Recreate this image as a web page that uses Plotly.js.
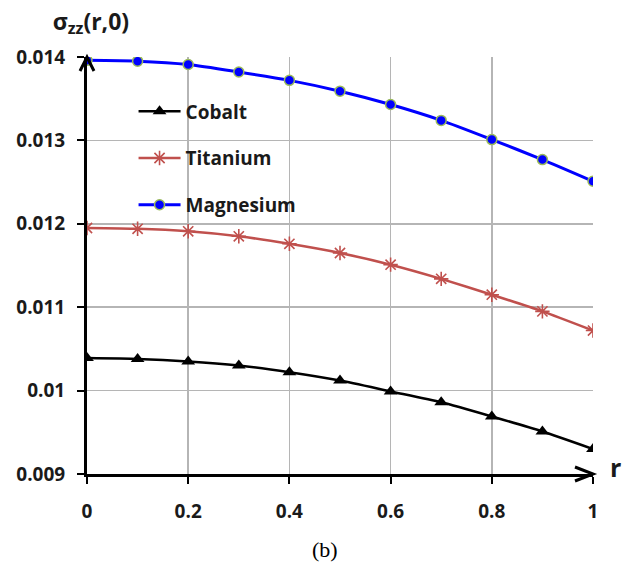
<!DOCTYPE html>
<html>
<head>
<meta charset="utf-8">
<script src="https://cdn.plot.ly/plotly-3.0.1.min.js"></script>
<style>
  html, body { margin: 0; padding: 0; background: #ffffff; }
  #wrap { position: relative; width: 627px; height: 566px; }
  #chart { width: 627px; height: 566px; }
  #axis-r {
    position: absolute; left: 610px; top: 455px;
    font-family: 'Open Sans', sans-serif; font-weight: bold;
    font-size: 25px; line-height: 25px; color: #1a1a1a;
  }
</style>
</head>
<body>
<div id="wrap">
  <div id="chart"></div>
  <div id="axis-r">r</div>
</div>
<script>
// Radial coordinate r and the axial stress sigma_zz(r, 0) for three materials
const r = [0, 0.1, 0.2, 0.3, 0.4, 0.5, 0.6, 0.7, 0.8, 0.9, 1.0];

const cobalt    = [0.01039, 0.01038, 0.01035, 0.01030, 0.01022, 0.01012, 0.00999, 0.00986, 0.00969, 0.00951, 0.00930];
const titanium  = [0.01195, 0.01194, 0.01191, 0.01185, 0.01176, 0.01165, 0.01151, 0.01134, 0.01115, 0.01095, 0.01072];
const magnesium = [0.01396, 0.01395, 0.01391, 0.01382, 0.01372, 0.01359, 0.01343, 0.01324, 0.01301, 0.01277, 0.01251];

const seriesNames = ['Cobalt', 'Titanium', 'Magnesium'];

const xTickVals = [0, 0.2, 0.4, 0.6, 0.8, 1];
const xTickText = ['0', '0.2', '0.4', '0.6', '0.8', '1'];
const yTickVals = [0.009, 0.010, 0.011, 0.012, 0.013, 0.014];
const yTickText = ['0.009', '0.01', '0.011', '0.012', '0.013', '0.014'];

const tickFont = { family: 'Open Sans, sans-serif', size: 19, color: '#1a1a1a', weight: 'bold' };

const traces = [
  {
    x: r, y: cobalt, name: seriesNames[0], legendgroup: 'g1',
    mode: 'lines+markers', type: 'scatter',
    line: { color: '#000000', width: 2.5, shape: 'spline', smoothing: 0.6 },
    marker: { symbol: 'triangle-up', size: 12, color: '#000000' }
  },
  {
    x: r, y: titanium, name: seriesNames[1], legendgroup: 'g2',
    mode: 'lines+markers', type: 'scatter',
    line: { color: '#c0504d', width: 2.5, shape: 'spline', smoothing: 0.6 },
    marker: { symbol: 'asterisk-open', size: 12, color: '#c0504d', line: { color: '#c0504d', width: 1.6 } }
  },
  {
    x: r, y: magnesium, name: seriesNames[2], legendgroup: 'g3',
    mode: 'lines+markers', type: 'scatter',
    line: { color: '#0000ff', width: 3, shape: 'spline', smoothing: 0.6 },
    marker: { symbol: 'circle', size: 10, color: '#0000ff', line: { color: '#9bbb59', width: 1.5 } }
  }
];

const layout = {
  width: 627,
  height: 566,
  margin: { l: 87, r: 34, t: 57, b: 92 },
  paper_bgcolor: '#ffffff',
  plot_bgcolor: '#ffffff',
  showlegend: true,
  legend: {
    x: 0.092, xanchor: 'left',
    y: 0.915, yanchor: 'top',
    bgcolor: 'rgba(0,0,0,0)',
    traceorder: 'grouped',
    tracegroupgap: 19,
    itemwidth: 42,
    font: { family: 'Open Sans, sans-serif', size: 19, color: '#1a1a1a', weight: 'bold' }
  },
  title: {
    text: 'σ<sub>zz</sub>(r,0)',
    xref: 'container', x: 0.084, xanchor: 'left',
    yref: 'container', y: 0.962, yanchor: 'middle',
    font: { family: 'Open Sans, sans-serif', size: 23, color: '#1a1a1a', weight: 'bold' }
  },
  xaxis: {
    range: [0, 1],
    tickmode: 'array', tickvals: xTickVals, ticktext: xTickText,
    showgrid: true, gridcolor: '#b5b5b5', gridwidth: 1.5,
    zeroline: false,
    showline: true, linecolor: '#000000', linewidth: 3,
    ticks: 'outside', ticklen: 7, tickwidth: 2, tickcolor: '#000000',
    ticklabelstandoff: 11,
    tickfont: tickFont,
    fixedrange: true
  },
  yaxis: {
    range: [0.009, 0.014],
    tickmode: 'array', tickvals: yTickVals, ticktext: yTickText,
    showgrid: true, gridcolor: '#b5b5b5', gridwidth: 1.5,
    zeroline: false,
    showline: true, linecolor: '#000000', linewidth: 3,
    ticks: 'outside', ticklen: 7, tickwidth: 2, tickcolor: '#000000',
    ticklabelstandoff: 8,
    tickfont: tickFont,
    fixedrange: true
  },
  shapes: [
    // arrow head at the right end of the r axis
    {
      type: 'path', xref: 'paper', yref: 'paper',
      xsizemode: 'pixel', ysizemode: 'pixel', xanchor: 1, yanchor: 0,
      path: 'M -18 7 L 0 0 L -18 -7',
      line: { color: '#000000', width: 3 }
    },
    // arrow head at the top of the stress axis
    {
      type: 'path', xref: 'paper', yref: 'paper',
      xsizemode: 'pixel', ysizemode: 'pixel', xanchor: 0, yanchor: 1,
      path: 'M -7 -14 L 0 0 L 7 -14',
      line: { color: '#000000', width: 3 }
    }
  ],
  annotations: [
    {
      text: '(b)', xref: 'paper', yref: 'paper',
      x: 0.47, y: -0.182, xanchor: 'center', yanchor: 'middle',
      showarrow: false,
      font: { family: 'Liberation Serif, serif', size: 22, color: '#000000' }
    }
  ]
};

Plotly.newPlot('chart', traces, layout, { displayModeBar: false, staticPlot: true });
</script>
</body>
</html>
